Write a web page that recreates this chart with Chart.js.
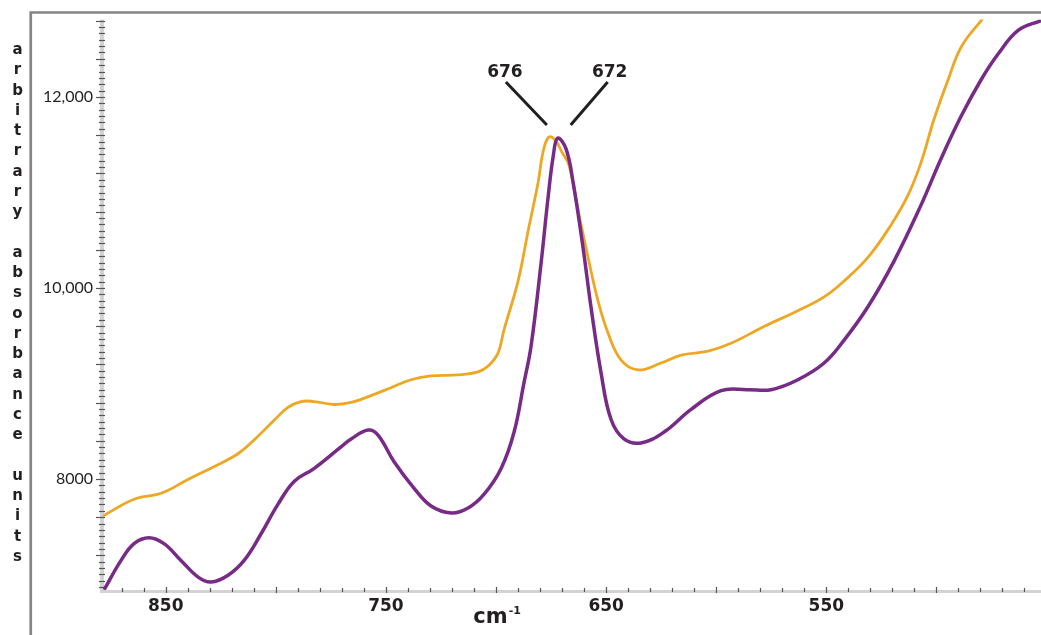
<!DOCTYPE html>
<html>
<head>
<meta charset="utf-8">
<script src="https://cdn.jsdelivr.net/npm/chart.js@4/dist/chart.umd.min.js"></script>
<style>
  html, body { margin: 0; padding: 0; background: #ffffff; }
  #wrap { width: 1041px; height: 635px; position: relative; }
</style>
</head>
<body>
<div id="wrap"><canvas id="spectrum" width="1041" height="635"></canvas></div>
<script>
// Spectrum 1 (gold): wavenumber in cm-1 and absorbance
const goldWavenumber = [878.5, 864.4, 852.1, 839.9, 828.1, 817.2, 809.9, 800.8, 794.5, 788.6,
  782.7, 773.6, 765.8, 756.8, 747.7, 738.6, 729.5, 717.3, 708.2, 703.6,
  699.1, 696.4, 690.0, 685.5, 680.9, 678.5, 676.0, 673.0, 670.0, 666.8,
  662.3, 658.2, 653.7, 649.1, 643.2, 635.5, 625.1, 616.0, 603.7, 593.3,
  578.3, 562.9, 551.0, 542.0, 531.1, 520.6, 512.9, 507.0, 501.1, 494.7,
  488.8, 479.7, 475.0];
const goldAbsorbance = [7612, 7788, 7850, 7995, 8129, 8264, 8408, 8615, 8749, 8811,
  8811, 8780, 8801, 8873, 8956, 9039, 9080, 9090, 9121, 9183,
  9318, 9560, 10072, 10589, 11106, 11440, 11580, 11545, 11420, 11282,
  10765, 10320, 9866, 9525, 9245, 9142, 9214, 9297, 9339, 9421,
  9597, 9762, 9907, 10072, 10320, 10661, 10972, 11313, 11767, 12181,
  12522, 12801, 12935];

// Spectrum 2 (purple): wavenumber in cm-1 and absorbance
const purpleWavenumber = [878.0, 870.3, 864.4, 857.6, 850.8, 843.1, 835.3, 829.4, 821.7, 814.4,
  806.7, 799.0, 791.7, 782.7, 770.4, 765.8, 758.1, 753.6, 746.3, 737.2,
  729.5, 720.4, 712.7, 705.4, 697.7, 691.8, 687.3, 684.1, 679.6, 676.4,
  674.0, 672.0, 668.2, 665.0, 660.5, 656.9, 652.3, 647.8, 641.9, 634.2,
  623.7, 611.4, 597.8, 585.6, 575.1, 562.9, 551.0, 542.0, 531.1, 519.3,
  507.0, 497.9, 488.8, 479.7, 472.0, 462.9, 452.5];
const purpleAbsorbance = [6840, 7147, 7323, 7385, 7323, 7147, 6972, 6920, 6992, 7147,
  7426, 7736, 7974, 8109, 8336, 8419, 8512, 8460, 8181, 7902,
  7716, 7643, 7695, 7840, 8109, 8491, 9008, 9390, 10248, 10941,
  11385, 11570, 11457, 11106, 10424, 9804, 9111, 8625, 8419, 8377,
  8491, 8729, 8925, 8935, 8935, 9039, 9214, 9452, 9804, 10279,
  10868, 11354, 11798, 12181, 12450, 12698, 12801];

// Axis labels
const xTickValues = [850, 750, 650, 550];
const yTickValues = [8000, 10000, 12000];
const yTickText = ['8000', '10,000', '12,000'];

// Peak positions called out above the band (gold, purple)
const peakLabels = [676, 672];

const yTitle = 'arbitrary absorbance units';
const INK = '#231f20';
const GOLD = '#eea722';
const PURPLE = '#772a86';

const toPoints = (xs, ys) => xs.map((x, i) => ({ x: x, y: ys[i] }));

// Axis bands with fine tick marks, drawn under the curves
const axisFurniture = {
  id: 'axisFurniture',
  beforeDatasetsDraw(chart) {
    const { ctx, chartArea: a, scales: { x, y } } = chart;
    ctx.save();
    ctx.fillStyle = '#d3d3d3';
    ctx.fillRect(a.left - 3, a.top, 4, a.bottom - a.top + 3);
    ctx.fillRect(a.left - 3, a.bottom, a.right - a.left + 3, 3);

    ctx.strokeStyle = '#555555';
    ctx.lineWidth = 1.2;
    // vertical axis: long marks every 400, short marks every 400/6
    for (let k = 0; ; k++) {
      const v = 6800 + k * 400 / 6;
      if (v > y.max) break;
      if (v < y.min) continue;
      const py = Math.round(y.getPixelForValue(v)) + 0.5;
      const major = k % 6 === 0;
      ctx.beginPath();
      ctx.moveTo(a.left - (major ? 7 : 4), py);
      ctx.lineTo(a.left + 2, py);
      ctx.stroke();
    }
    // horizontal axis: marks every 10 cm-1, longer every 50
    for (let v = 880; v >= 450; v -= 10) {
      if (v > x.max || v < x.min) continue;
      const px = Math.round(x.getPixelForValue(v)) + 0.5;
      const major = v % 50 === 0;
      ctx.beginPath();
      ctx.moveTo(px, a.bottom - (major ? 3 : 2));
      ctx.lineTo(px, a.bottom + (major ? 3 : 2));
      ctx.stroke();
    }
    ctx.restore();
  }
};

// Frame, peak call-outs and axis titles
const overlay = {
  id: 'overlay',
  afterDatasetsDraw(chart) {
    const { ctx, scales: { x } } = chart;
    ctx.save();

    // frame
    ctx.strokeStyle = '#858585';
    ctx.lineWidth = 2.7;
    ctx.beginPath();
    ctx.moveTo(30.75, chart.height);
    ctx.lineTo(30.75, 12.5);
    ctx.lineTo(chart.width, 12.5);
    ctx.stroke();

    // peak call-outs
    const pGold = x.getPixelForValue(peakLabels[0]);
    const pPurple = x.getPixelForValue(peakLabels[1]);
    ctx.strokeStyle = INK;
    ctx.lineWidth = 3;
    ctx.lineCap = 'butt';
    ctx.beginPath();
    ctx.moveTo(pGold - 43, 82);
    ctx.lineTo(pGold - 2, 125);
    ctx.moveTo(pPurple + 50, 82);
    ctx.lineTo(pPurple + 13, 125);
    ctx.stroke();
    ctx.fillStyle = INK;
    ctx.font = 'bold 17px "DejaVu Sans"';
    ctx.textAlign = 'center';
    ctx.textBaseline = 'alphabetic';
    ctx.fillText(String(peakLabels[0]), pGold - 44, 77);
    ctx.fillText(String(peakLabels[1]), pPurple + 52, 77);

    // vertical title, one letter per line
    ctx.font = 'bold 15px "DejaVu Sans"';
    for (let i = 0; i < yTitle.length; i++) {
      const ch = yTitle[i];
      if (ch === ' ') continue;
      ctx.fillText(ch, 17.5, 54 + i * 20.28);
    }

    // x-axis unit
    const cx = x.getPixelForValue(700);
    ctx.textAlign = 'left';
    ctx.font = 'bold 21px "DejaVu Sans"';
    const cmW = ctx.measureText('cm').width;
    const left = cx - (cmW + 11) / 2;
    ctx.fillText('cm', left, 623);
    ctx.font = 'bold 11px "DejaVu Sans"';
    ctx.fillText('-1', left + cmW + 1, 614);

    ctx.restore();
  }
};

new Chart(document.getElementById('spectrum'), {
  type: 'line',
  data: {
    datasets: [
      {
        data: toPoints(purpleWavenumber, purpleAbsorbance),
        borderColor: PURPLE,
        borderWidth: 3.5,
        pointRadius: 0,
        tension: 0.4,
        fill: false
      },
      {
        data: toPoints(goldWavenumber, goldAbsorbance),
        borderColor: GOLD,
        borderWidth: 2.8,
        pointRadius: 0,
        tension: 0.4,
        fill: false
      }
    ]
  },
  options: {
    responsive: false,
    maintainAspectRatio: false,
    devicePixelRatio: 1,
    animation: false,
    layout: { padding: { top: 12, left: 0, right: 0, bottom: 0 } },
    plugins: { legend: { display: false }, tooltip: { enabled: false } },
    scales: {
      x: {
        type: 'linear',
        reverse: true,
        min: 452.5,
        max: 878.5,
        afterBuildTicks: s => { s.ticks = xTickValues.map(v => ({ value: v })); },
        afterFit: s => { s.height = 45; },
        grid: { display: false, drawTicks: false },
        border: { display: false },
        ticks: {
          padding: 6,
          color: INK,
          autoSkip: false,
          maxRotation: 0,
          font: { family: 'DejaVu Sans', weight: 'bold', size: 17 },
          callback: v => String(v)
        }
      },
      y: {
        type: 'linear',
        min: 6837,
        max: 12811,
        afterBuildTicks: s => { s.ticks = yTickValues.map(v => ({ value: v })); },
        afterFit: s => { s.width = 103; },
        grid: { display: false, drawTicks: false },
        border: { display: false },
        ticks: {
          padding: 10,
          color: INK,
          font: { family: 'Lato', size: 16 },
          callback: v => yTickText[yTickValues.indexOf(v)]
        }
      }
    }
  },
  plugins: [axisFurniture, overlay]
});
</script>
</body>
</html>
